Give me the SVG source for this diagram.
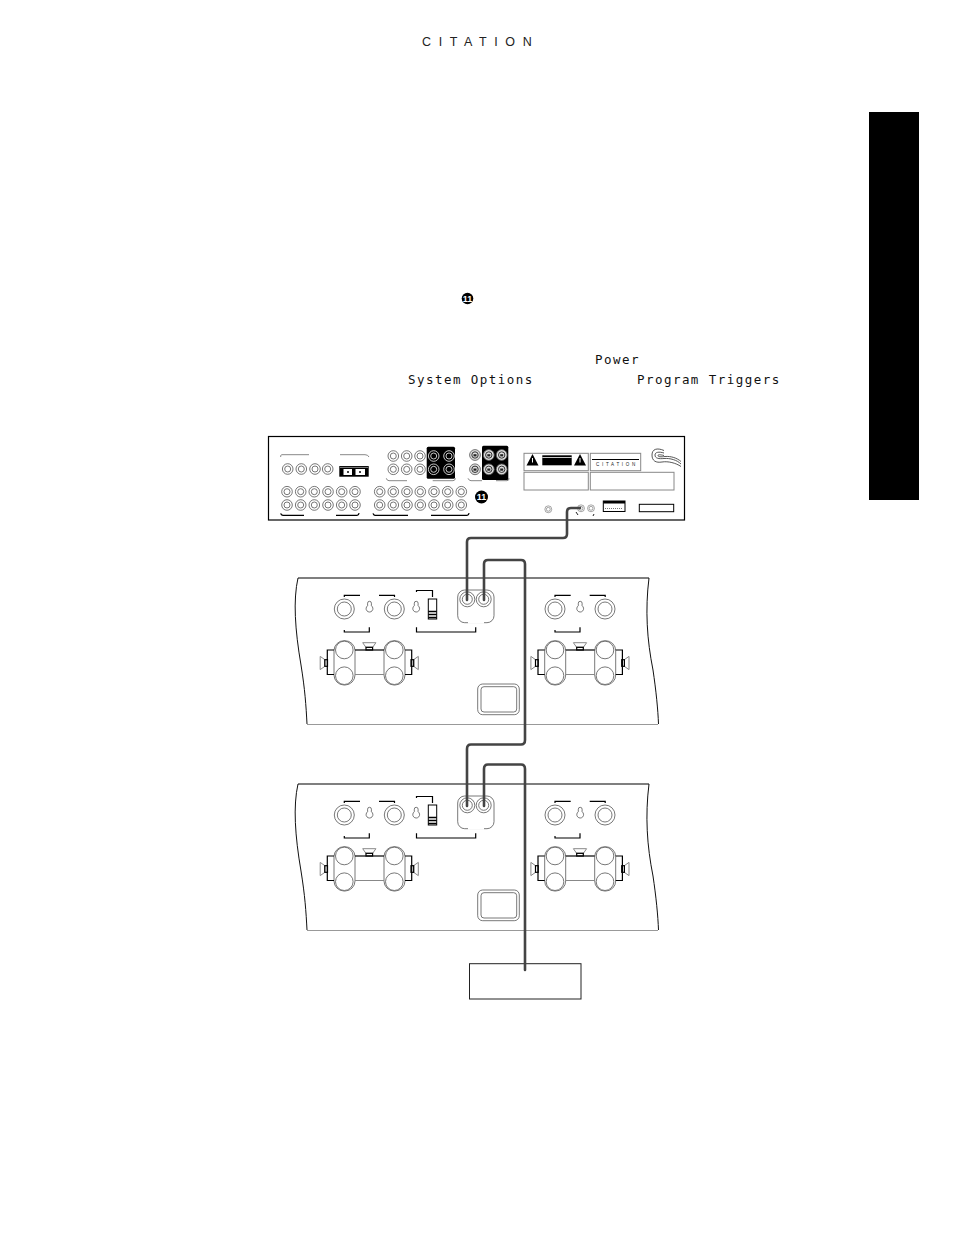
<svg xmlns="http://www.w3.org/2000/svg" xmlns:xlink="http://www.w3.org/1999/xlink" width="954" height="1235" viewBox="0 0 954 1235">
<style>
.t{font-family:"DejaVu Sans Mono","Liberation Mono",monospace;font-size:12.5px;letter-spacing:1.45px;fill:#111}
.o{fill:none;stroke:#111;stroke-width:1}
.k{fill:none;stroke:#000;stroke-width:1.2}
.g{fill:none;stroke:#888;stroke-width:1}
.j{fill:#fff;stroke:#555;stroke-width:.8}
.w{fill:none;stroke:#ddd;stroke-width:.9}
.c{fill:none;stroke:#444;stroke-width:2.6;stroke-linecap:round}
.b{fill:#000}
</style>
<defs>
<g id="rca"><circle r="5.300" class="j"/><circle r="3" class="j"/></g>
<g id="rcaw"><circle r="5.300" class="w"/><circle r="3" class="w"/></g>
<g id="svid"><circle r="5.400" fill="#ddd" stroke="#555" stroke-width=".8"/><circle r="3.200" fill="none" stroke="#333" stroke-width="1"/><rect x="-1.500" y="-.8" width="3" height="2.200" fill="#222"/></g>
<g id="spk"><path d="M-6.600-2.300H6.600L3.400 2.300H-3.400Z" class="g" fill="#fff"/><rect x="-3.300" y="2.300" width="6.600" height="2.700" class="k" fill="#fff"/></g>
<path id="tog" d="M-1.900-4.300a1.900 1.900 0 0 1 3.800 0v2.600a3.400 3.400 0 1 1-3.800 0Z" class="j"/>
<g id="chan">
<circle cx="344.300" cy="609" r="10" class="j"/><circle cx="344.300" cy="609" r="7" class="j"/>
<circle cx="394.300" cy="609" r="10" class="j"/><circle cx="394.300" cy="609" r="7" class="j"/>
<use href="#tog" x="369.500" y="607.500"/>
<path d="M344.300 597V595.300H360M379 595.300H394.500V597M344.300 630V632H369.300V627.300" class="k"/>
<rect x="334" y="640.700" width="21" height="44.300" rx="10" class="j"/><rect x="384" y="640.700" width="21" height="44.300" rx="10" class="j"/>
<circle cx="344.300" cy="650" r="8.800" class="j"/><circle cx="344.300" cy="675.700" r="8.800" class="j"/>
<circle cx="394.300" cy="650" r="8.800" class="j"/><circle cx="394.300" cy="675.700" r="8.800" class="j"/>
<path d="M355 650H384" class="k"/><path d="M355 674.500H384" class="g"/>
<path d="M334 650H327.300V674.500H334M405 650H411.700V674.500H405" class="k"/>
<use href="#spk" x="369.300" y="645"/>
<use href="#spk" transform="translate(322.500 663) rotate(-90)"/>
<use href="#spk" transform="translate(416 663) rotate(90)"/>
</g>
<g id="mid">
<use href="#tog" x="416.200" y="607.500"/>
<path d="M416.500 592V590.500H432.500V597M416.500 627.300V632H475.700V627.300" class="k"/>
<rect x="428.300" y="599" width="8.400" height="20" fill="#fff" stroke="#000" stroke-width="1"/>
<path d="M428.300 611.500H436.700M428.300 614.500H436.700M428.300 617.500H436.700" stroke="#000" stroke-width="1.500"/>
<rect x="457.700" y="590" width="36.300" height="32.700" rx="7" class="j"/>
<path d="M468 622.700H484" stroke="#fff" stroke-width="2"/>
<circle cx="467.300" cy="599.300" r="7.500" class="j"/><circle cx="467.300" cy="599.300" r="5" class="j"/>
<circle cx="483.700" cy="599.300" r="7.500" class="j"/><circle cx="483.700" cy="599.300" r="5" class="j"/>
<rect x="477.700" y="684" width="41.600" height="30.700" rx="5" class="j"/><rect x="481" y="686.700" width="35.700" height="25.300" rx="3" class="j"/>
</g>
</defs>
<rect width="954" height="1235" fill="#fff"/>
<g id="page-text">
<text x="422" y="46" font-family="'Liberation Sans',sans-serif" font-size="12.500" letter-spacing="7.600" fill="#222">CITATION</text>
<rect id="side-tab" x="869" y="112" width="50" height="388" fill="#000"/>
<circle cx="467.500" cy="298.500" r="5.800" fill="#000"/>
<text x="467.500" y="301.700" text-anchor="middle" font-family="'Liberation Sans',sans-serif" font-weight="700" font-size="9" fill="#fff">11</text>
<text class="t" x="595" y="364">Power</text>
<text class="t" x="408" y="384">System Options</text>
<text class="t" x="637" y="384">Program Triggers</text>
</g>
<g id="receiver">
<rect x="268.500" y="436.500" width="416" height="83.500" fill="#fff" stroke="#000" stroke-width="1.200"/>
<path d="M280.700 457V455.700Q281 454.700 282 454.700H309" class="g"/><path d="M340 454.700H365Q368 454.700 369 457" class="g"/>
<use href="#rca" x="287.700" y="469"/><use href="#rca" x="301.300" y="469"/><use href="#rca" x="315" y="469"/><use href="#rca" x="327.700" y="469"/>
<rect x="339.300" y="466" width="29.400" height="10.700" fill="#000"/><path d="M340 467.400H368" stroke="#bbb" stroke-width=".7"/><rect x="343.500" y="469" width="8.500" height="6" fill="#fff"/><rect x="355.500" y="469" width="9.500" height="6" fill="#fff"/><rect x="347" y="471" width="2" height="2" fill="#444"/><rect x="359" y="471" width="2" height="2" fill="#444"/>
<g id="rca-lower-left">
<use href="#rca" x="287" y="491.700"/><use href="#rca" x="300.700" y="491.700"/><use href="#rca" x="314.300" y="491.700"/><use href="#rca" x="328" y="491.700"/><use href="#rca" x="341.700" y="491.700"/><use href="#rca" x="355" y="491.700"/>
<use href="#rca" x="287" y="505"/><use href="#rca" x="300.700" y="505"/><use href="#rca" x="314.300" y="505"/><use href="#rca" x="328" y="505"/><use href="#rca" x="341.700" y="505"/><use href="#rca" x="355" y="505"/>
</g>
<g id="rca-lower-mid">
<use href="#rca" x="379.700" y="491.700"/><use href="#rca" x="393.300" y="491.700"/><use href="#rca" x="407" y="491.700"/><use href="#rca" x="420.300" y="491.700"/><use href="#rca" x="434" y="491.700"/><use href="#rca" x="447.700" y="491.700"/><use href="#rca" x="461.300" y="491.700"/>
<use href="#rca" x="379.700" y="505"/><use href="#rca" x="393.300" y="505"/><use href="#rca" x="407" y="505"/><use href="#rca" x="420.300" y="505"/><use href="#rca" x="434" y="505"/><use href="#rca" x="447.700" y="505"/><use href="#rca" x="461.300" y="505"/>
</g>
<path d="M280.700 513.300Q281 515 283 515.300H304M336 515.300H357Q359 515 359 513M373 513.300Q373.500 515 375 515.300H408M431 515.300H467Q469 515 469 513" class="k" stroke-width="1"/>
<use href="#rca" x="393.300" y="456"/><use href="#rca" x="406.700" y="456"/><use href="#rca" x="420" y="456"/>
<use href="#rca" x="393.300" y="469.300"/><use href="#rca" x="406.700" y="469.300"/><use href="#rca" x="420" y="469.300"/>
<rect x="426.700" y="446.700" width="28.300" height="32" rx="1.500" fill="#000"/>
<use href="#rcaw" x="433.700" y="456"/><use href="#rcaw" x="449" y="456"/><use href="#rcaw" x="433.700" y="469.300"/><use href="#rcaw" x="449" y="469.300"/>
<path d="M386.300 478.300Q387 480.700 389 480.700H407M432.700 480.700H453Q455 480.700 455.500 478.300M468 478.300Q469 480.700 471 480.700H482M496 480.700H507Q509 480.700 509 478.300" class="g"/>
<use href="#svid" x="475" y="455"/><use href="#svid" x="475" y="469.300"/>
<rect x="482" y="445.700" width="26.300" height="34.300" rx="1.500" fill="#000"/>
<use href="#svid" x="488.800" y="455"/><use href="#svid" x="501.700" y="455"/><use href="#svid" x="488.800" y="469.300"/><use href="#svid" x="501.700" y="469.300"/>
<circle cx="481.500" cy="497" r="6.500" fill="#000"/>
<text x="481.500" y="500.200" text-anchor="middle" font-family="'Liberation Sans',sans-serif" font-weight="700" font-size="9" fill="#fff">11</text>
<rect x="524" y="453.300" width="64.300" height="17.400" class="g"/><rect x="590.300" y="453.300" width="50.400" height="17.400" class="g"/>
<path d="M532.500 454L538.500 465.500H526.500Z" class="b"/><path d="M580 454L586 465.500H574Z" class="b"/>
<path d="M532.500 458V462.500M580 458V462.500" stroke="#fff" stroke-width="1"/>
<rect x="542.300" y="455.300" width="29.400" height="10" fill="#000"/><path d="M542.300 457.500H571.700" stroke="#fff" stroke-width=".8"/>
<path d="M592 459.500H639" stroke="#000"/>
<text x="596" y="465.800" font-family="'Liberation Sans',sans-serif" font-size="4.500" letter-spacing="2.700" fill="#222">CITATION</text>
<rect x="524" y="472.300" width="64.300" height="17.700" class="g"/><rect x="590.300" y="472.300" width="83.700" height="17.700" class="g"/>
<path d="M664 450.500C657 447.500 652 449 652 455C652 461 656 463 662 462C668 461 676 463 681 466.500M664 453C659 451.500 655 452 655 455C655 458.500 659 459 664 458.500C670 458 677 460 681 464M664 455.500C660 454.500 658 454.500 658 455.500C658 457 661 457 665 456.500C671 456 677 458 681 461.500" fill="none" stroke="#444" stroke-width=".9"/>
<use href="#rca" transform="translate(548.300 509.300) scale(.65)"/><use href="#rca" transform="translate(581 508.300) scale(.65)"/><use href="#rca" transform="translate(591 508.300) scale(.65)"/>
<path d="M576 512L578 515M594 514L593 516" stroke="#222" fill="none"/>
<rect x="603.300" y="501" width="21.700" height="10.500" fill="#fff" stroke="#000"/><rect x="603.300" y="501" width="21.700" height="2.500" fill="#000"/><path d="M605 508.500H623" stroke="#777" stroke-dasharray="1 1"/>
<rect x="639.300" y="504.300" width="34.400" height="7.400" fill="#fff" stroke="#000"/>
</g>
<g id="unit-1">
<use href="#chan"/><use href="#chan" x="210.700"/><use href="#mid"/>
<path d="M298 578C293 600 295 630 301 665C305 690 306 705 307 724" class="o"/>
<path d="M298 578H649" stroke="#000" stroke-width="1.200"/>
<path d="M307 724.500H658" stroke="#999" stroke-width="1.200"/>
<path d="M649 578C645 610 647 640 653 670C656 690 658 710 658.500 724" class="o"/>
</g>
<g id="unit-2" transform="translate(0 206)">
<use href="#chan"/><use href="#chan" x="210.700"/><use href="#mid"/>
<path d="M298 578C293 600 295 630 301 665C305 690 306 705 307 724" class="o"/>
<path d="M298 578H649" stroke="#000" stroke-width="1.200"/>
<path d="M307 724.500H658" stroke="#999" stroke-width="1.200"/>
<path d="M649 578C645 610 647 640 653 670C656 690 658 710 658.500 724" class="o"/>
</g>
<g id="box">
<rect x="469.500" y="963.700" width="111.500" height="35.300" fill="#fff" stroke="#222" stroke-width="1"/>
</g>
<g id="connectors">
<path class="c" d="M580 508H571Q567 508 567 512V534Q567 538 563 538H471Q467 538 467 542V600"/>
<path class="c" d="M484 600V564Q484 560 488 560H521Q525 560 525 564V740Q525 744.500 521 744.500H471Q467 744.500 467 749V806"/>
<path class="c" d="M484 806V769Q484 764.500 488 764.500H521Q525 764.500 525 769V970"/>
</g>
</svg>
